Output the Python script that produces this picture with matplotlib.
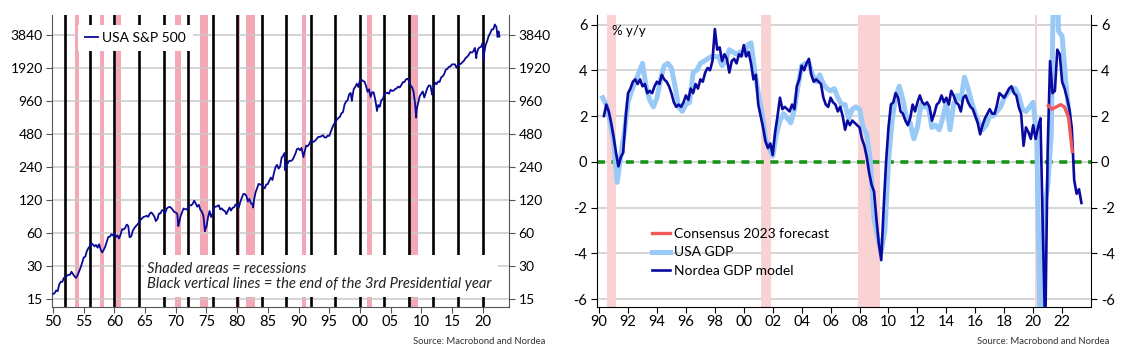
import numpy as np
import matplotlib.pyplot as plt
from matplotlib.patches import Rectangle

plt.rcParams['font.family'] = ['Lato', 'DejaVu Sans']

# ---------- left chart data ----------
recessions = [(1953.5, 1954.3), (1957.6, 1958.3), (1960.3, 1961.1), (1969.9, 1970.9),
              (1973.9, 1975.2), (1980.0, 1980.5), (1981.5, 1982.9), (1990.5, 1991.2),
              (2001.2, 2001.9), (2007.9, 2009.5), (2020.1, 2020.3)]
third_year_lines = list(range(1952, 2021, 4))

sp_start = 16.7
# quarter-end levels, 1950..2022
sp_quarterly = [
    [17.0, 18.0, 17.7, 20.4], [21.6, 21.5, 23.3, 23.8], [24.4, 25.0, 25.0, 26.6],
    [25.3, 24.1, 23.4, 24.8], [26.9, 29.2, 32.3, 35.9], [36.6, 41.0, 43.7, 45.5],
    [48.5, 46.9, 45.4, 46.7], [44.1, 47.4, 42.4, 39.9], [42.1, 45.2, 50.1, 55.2],
    [55.4, 58.5, 56.9, 59.9], [55.3, 56.9, 53.5, 58.1], [65.1, 64.6, 66.7, 71.6],
    [69.6, 54.8, 56.3, 63.1], [66.6, 69.4, 71.7, 75.0], [78.9, 81.7, 84.2, 84.8],
    [86.2, 84.1, 90.0, 92.4], [89.2, 84.7, 77.0, 80.3], [90.2, 90.6, 96.7, 96.5],
    [90.2, 99.6, 102.7, 103.9], [101.5, 97.7, 93.1, 92.1], [89.6, 72.7, 84.2, 92.2],
    [100.3, 99.0, 98.3, 102.1], [107.2, 107.1, 110.6, 118.1], [111.5, 104.3, 108.4, 97.6],
    [93.9, 86.0, 63.5, 68.6], [83.4, 95.2, 83.9, 90.2], [102.8, 104.3, 105.2, 107.5],
    [98.4, 100.5, 96.5, 95.1], [89.2, 95.5, 102.5, 96.1], [101.6, 102.9, 109.3, 107.9],
    [102.1, 114.2, 125.5, 135.8], [136.0, 131.2, 116.2, 122.6], [111.9, 109.6, 120.4, 140.6],
    [153.0, 168.1, 166.1, 164.9], [159.2, 153.2, 166.1, 167.2], [180.7, 191.9, 182.1, 211.3],
    [238.9, 250.8, 231.3, 242.2], [291.7, 304.0, 321.8, 247.1], [258.9, 273.5, 271.9, 277.7],
    [294.9, 317.9, 349.2, 353.4], [339.9, 358.0, 306.1, 330.2], [375.2, 371.2, 387.9, 417.1],
    [403.7, 408.1, 417.8, 435.7], [451.7, 450.5, 458.9, 466.5], [445.8, 444.3, 462.7, 459.3],
    [500.7, 544.8, 584.4, 615.9], [645.5, 670.6, 687.3, 740.7], [757.1, 885.1, 947.3, 970.4],
    [1101.8, 1133.8, 1017.0, 1229.2], [1286.4, 1372.7, 1282.7, 1469.3], [1498.6, 1454.6, 1436.5, 1320.3],
    [1160.3, 1224.4, 1040.9, 1148.1], [1147.4, 989.8, 815.3, 879.8], [848.2, 974.5, 996.0, 1111.9],
    [1126.2, 1140.8, 1114.6, 1211.9], [1180.6, 1191.3, 1228.8, 1248.3], [1294.8, 1270.2, 1335.8, 1418.3],
    [1420.9, 1503.4, 1526.8, 1468.4], [1322.7, 1280.0, 1166.4, 903.3], [797.9, 919.3, 1057.1, 1115.1],
    [1169.4, 1030.7, 1141.2, 1257.6], [1325.8, 1320.6, 1131.4, 1257.6], [1408.5, 1362.2, 1440.7, 1426.2],
    [1569.2, 1606.3, 1681.6, 1848.4], [1872.3, 1960.2, 1972.3, 2058.9], [2067.9, 2063.1, 1920.0, 2043.9],
    [2059.7, 2098.9, 2168.3, 2238.8], [2362.7, 2423.4, 2519.4, 2673.6], [2640.9, 2718.4, 2913.9, 2506.9],
    [2834.4, 2941.8, 2976.7, 3230.8], [2584.6, 3100.3, 3363.0, 3756.1], [3972.9, 4297.5, 4307.5, 4766.2],
    [4530.4, 3785.4, 3700.0],
]
sp_dip_t = [1962.45, 1970.4, 1974.75, 1982.6, 1987.8, 1990.8, 1998.7, 2002.78,
            2009.18, 2011.75, 2018.98, 2020.22, 2022.45, 2022.6]
sp_dip_v = [55.6, 69.3, 62.3, 102.4, 224.0, 295.0, 957.0, 776.0,
            676.0, 1099.0, 2351.0, 2237.0, 3667.0, 4130.0]

sp_ticks = [15, 30, 60, 120, 240, 480, 960, 1920, 3840]
sp_xticks = list(range(1950, 2021, 5))

# ---------- right chart data ----------
gdp_recessions = [(1990.53, 1991.15), (2001.2, 2001.85), (2007.92, 2009.42), (2020.1, 2020.25)]

gdp_start = 1990
# USA GDP % y/y, quarterly from 1990 Q1, plotted at quarter end
usa_gdp = [
    2.8, 2.5, 1.8, 0.9, -0.9, 0.3, 1.3, 2.6, 3.1, 3.5, 3.9, 4.3, 3.3, 2.7, 2.4, 2.8,
    3.6, 4.2, 4.3, 4.1, 3.3, 2.4, 2.2, 2.5, 2.6, 3.9, 4.0, 4.3, 4.4, 4.5, 4.6, 4.6,
    4.6, 4.2, 4.4, 4.9, 4.8, 4.7, 4.8, 4.7, 5.1, 5.2, 4.0, 3.0, 2.2, 1.0, 0.6, 0.25,
    1.2, 1.8, 2.1, 1.9, 1.7, 2.3, 3.3, 4.2, 4.3, 4.3, 3.8, 3.5, 3.8, 3.4, 3.2, 3.1,
    3.2, 2.8, 2.5, 2.5, 1.9, 2.3, 2.4, 2.3, 1.5, 1.2, 0.0, -2.5, -3.3, -3.9, -3.0, 0.0,
    1.8, 2.9, 3.3, 2.7, 1.9, 1.7, 1.0, 1.5, 2.5, 2.4, 2.4, 1.5, 1.6, 1.4, 1.9, 2.6,
    1.4, 2.5, 2.9, 2.7, 3.7, 3.2, 2.6, 2.1, 1.7, 1.4, 1.6, 2.0, 2.0, 2.2, 2.4, 2.8,
    3.0, 3.2, 3.2, 2.9, 2.3, 2.2, 2.4, 2.6, 1.0, -8.4, -2.0, -1.1, 1.2, 12.2, 5.7, 5.5,
    3.5, 2.0,
]

# Nordea GDP model, bi-monthly from 1990 (first two slots empty)
nordea_model = [
    [None, None, 2.0, 2.5, 2.2, 1.7],
    [1.1, 0.4, -0.2, 0.2, 0.4, 1.9], [3.0, 3.2, 3.5, 3.6, 3.4, 3.6],
    [3.3, 3.4, 3.0, 3.1, 3.0, 3.3], [3.5, 3.4, 3.8, 3.6, 3.5, 3.3],
    [3.0, 2.6, 2.4, 2.5, 2.4, 2.6], [2.9, 2.7, 3.2, 3.0, 3.4, 3.2],
    [3.6, 3.5, 3.9, 4.1, 4.0, 4.4], [5.8, 4.9, 5.0, 4.4, 4.7, 4.5],
    [3.9, 4.4, 4.5, 4.3, 4.7, 4.6], [5.1, 4.6, 4.8, 4.3, 3.6, 3.8],
    [2.5, 2.0, 1.5, 0.9, 0.6, 0.8], [0.3, 1.3, 2.0, 2.8, 2.3, 2.4],
    [2.3, 2.2, 2.5, 2.3, 3.3, 3.6], [4.2, 4.0, 4.3, 4.5, 3.8, 3.5],
    [3.6, 3.5, 3.4, 2.8, 2.5, 2.4], [2.8, 2.6, 2.5, 2.2, 2.4, 2.0],
    [1.4, 1.8, 1.6, 1.8, 1.7, 1.6], [1.5, 1.0, 0.7, 0.2, -0.5, -1.0],
    [-1.3, -2.5, -3.6, -4.3, -2.0, 0.0], [1.5, 2.5, 2.6, 3.0, 2.8, 2.2],
    [2.1, 1.8, 1.6, 1.9, 2.5, 2.2], [2.6, 2.9, 2.6, 2.5, 2.6, 2.4],
    [1.8, 2.1, 2.5, 2.6, 2.9, 2.6], [2.8, 2.5, 3.1, 2.9, 2.6, 2.5],
    [2.2, 2.8, 2.9, 2.6, 2.4, 2.3], [2.0, 1.7, 1.2, 1.6, 1.9, 2.1],
    [2.3, 2.1, 2.1, 2.5, 3.0, 2.9], [2.8, 3.0, 3.2, 3.3, 3.0, 2.9],
    [2.4, 2.1, 0.7, 1.5, 1.3, 1.0], [1.6, 1.0, 1.5, 1.9, -3.0, -7.5],
    [0.5, 4.4, 3.0, 3.1, 4.9, 4.7], [3.5, 3.2, 2.8, 2.3, 1.5, -0.8],
    [-1.4, -1.2, -1.8],
]

consensus_t = [2021.05, 2021.3, 2021.6, 2021.9, 2022.15, 2022.35, 2022.45, 2022.7]
consensus_v = [2.45, 2.3, 2.4, 2.5, 2.4, 2.1, 1.9, 0.45]

gdp_ticks = [-6, -4, -2, 0, 2, 4, 6]
gdp_xticks = list(range(1990, 2023, 2))

# ---------- colours ----------
navy = '#0a0a96'
pink_dark = '#f4a7b5'
pink_light = '#f9d2d4'
grid_col = '#c9c9c9'

fig = plt.figure(figsize=(11.31, 3.6), dpi=100)

# ================= left chart =================
ax = fig.add_axes([0.0464, 0.147, 0.4036, 0.811])

for a, b in recessions:
    ax.axvspan(a, b, color=pink_dark, lw=0, zorder=1)
for yr in third_year_lines:
    ax.axvline(yr, color='black', lw=1.9, zorder=1.5)

sp_t = [1950.0]
sp_v = [sp_start]
for i, row in enumerate(sp_quarterly):
    for q, v in enumerate(row):
        sp_t.append(1950 + i + (q + 1) / 4)
        sp_v.append(v)
sp_t = np.array(sp_t + sp_dip_t)
sp_v = np.array(sp_v + sp_dip_v)
order = np.argsort(sp_t)
ax.plot(sp_t[order], sp_v[order], color=navy, lw=1.3, zorder=5, label='USA S&P 500')

ax.set_yscale('log', base=2)
ax.set_ylim(12.68, 5800)
ax.set_xlim(1949.9, 2024.3)
ax.set_yticks(sp_ticks)
ax.set_yticklabels([str(t) for t in sp_ticks])
ax.minorticks_off()
ax.set_xticks(sp_xticks)
ax.set_xticklabels(['%02d' % (t % 100) for t in sp_xticks])
for t in sp_ticks:
    ax.axhline(t, color=grid_col, lw=1.1, zorder=1.2)
ax.tick_params(axis='y', which='both', left=True, right=True, labelleft=True,
               labelright=True, labelsize=10, length=4, color='#555555', pad=3)
ax.tick_params(axis='x', labelsize=10.5, length=4, color='#555555', pad=2)
for s in ['left', 'right', 'bottom']:
    ax.spines[s].set_color('#555555')
ax.spines['top'].set_visible(False)

ax.add_patch(Rectangle((0.2, 0.034), 0.775, 0.144, transform=ax.transAxes,
                       facecolor='white', edgecolor='none', zorder=3))
ax.text(0.207, 0.105, 'Shaded areas = recessions\nBlack vertical lines = the end of the 3rd Presidential year',
        transform=ax.transAxes, fontsize=10.6, style='italic', va='center', ha='left',
        linespacing=1.15, zorder=4, color='#222222')

leg = ax.legend(loc='upper left', bbox_to_anchor=(0.057, 0.965), handlelength=0.9,
                handletextpad=0.3, fontsize=10, frameon=True, fancybox=False,
                borderpad=0.5, borderaxespad=0)
leg.get_frame().set_facecolor('white')
leg.get_frame().set_edgecolor('none')
leg.get_frame().set_alpha(1)
leg.set_zorder(6)

fig.text(0.4825, 0.05, 'Source: Macrobond and Nordea', fontsize=6.8, ha='right',
         va='center', color='#333333')

# ================= right chart =================
ax2 = fig.add_axes([0.5279, 0.147, 0.4368, 0.811])

for a, b in gdp_recessions:
    ax2.axvspan(a, b, color=pink_light, lw=0, zorder=1)

ax2.axhline(0, color='#1a931a', lw=2.6, dashes=(2.2, 1.8), zorder=2.5)

gdp_t = [gdp_start + (i + 1) / 4 for i in range(len(usa_gdp))]
l_gdp, = ax2.plot(gdp_t, usa_gdp, color='#99c9f7', lw=3.6, zorder=3,
                  solid_joinstyle='round', label='USA GDP')

nm_t, nm_v = [], []
for i, row in enumerate(nordea_model):
    for k, v in enumerate(row):
        if v is not None:
            nm_t.append(gdp_start + i + k / 6)
            nm_v.append(v)
l_nm, = ax2.plot(nm_t, nm_v, color='#0a0aa0', lw=1.9, zorder=4, label='Nordea GDP model')

l_cons, = ax2.plot(consensus_t, consensus_v, color='#f0595b', lw=2.4, zorder=5,
                   label='Consensus 2023 forecast')

ax2.set_xlim(1989.86, 2024.0)
ax2.set_ylim(-6.35, 6.41)
ax2.set_yticks(gdp_ticks)
ax2.set_yticklabels([str(t) for t in gdp_ticks])
ax2.set_xticks(gdp_xticks)
ax2.set_xticklabels(['%02d' % (t % 100) for t in gdp_xticks])
ax2.yaxis.grid(True, color=grid_col, lw=1.1, zorder=0)
ax2.set_axisbelow(True)
ax2.tick_params(axis='y', left=True, right=True, labelleft=True, labelright=True,
                labelsize=10.5, length=4, pad=3)
ax2.tick_params(axis='x', labelsize=10.5, length=4, pad=2)
ax2.spines['top'].set_visible(False)

ax2.text(0.03, 0.965, '% y/y', transform=ax2.transAxes, fontsize=9.5, va='top', ha='left')

leg2 = ax2.legend(handles=[l_cons, l_gdp, l_nm], loc='lower left',
                  bbox_to_anchor=(0.1, 0.085), handlelength=1.3, handletextpad=0.3,
                  fontsize=10, frameon=False, labelspacing=0.45, borderaxespad=0)

fig.text(0.981, 0.05, 'Source: Macrobond and Nordea', fontsize=6.8, ha='right',
         va='center', color='#333333')

fig.savefig('out.png', dpi=100)
